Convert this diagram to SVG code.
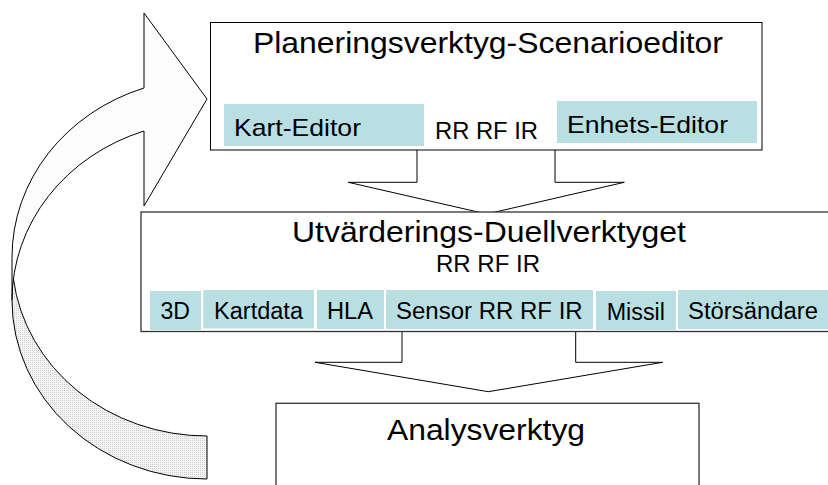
<svg xmlns="http://www.w3.org/2000/svg" width="828" height="485" viewBox="0 0 828 485">
<style>
text { font-family: "Liberation Sans", Arial, sans-serif; fill: #000; }
.t30 { font-size: 30px; }
.t24 { font-size: 24px; }
.t23 { font-size: 23px; }
.box { fill: #fff; stroke: #000; stroke-width: 1; }
.box2 { fill: #fff; stroke: #333; stroke-width: 1.3; }
.cell { fill: #b9dfe2; }
.blk { fill: #fff; stroke: #000; stroke-width: 1; stroke-linejoin: miter; }
.edge { fill: none; stroke: #000; stroke-width: 1; }
</style>
<defs>
<pattern id="dots" width="2" height="2" patternUnits="userSpaceOnUse">
<rect width="2" height="2" fill="#f4f4f4"/>
<rect width="1" height="1" fill="#cfcfcf"/>
</pattern>
</defs>

<g id="connectors">
<g id="loop-arrow">
<path d="M12,300.2 A195,178.8 0 0 0 207,479 L207,436 A195,178.8 0 0 1 12,257.2 Z" fill="url(#dots)" stroke="none"/>
<path d="M12,300.2 A195,178.8 0 0 1 144,131 L144,206 L207,99 L144,13 L144,88 A195,178.8 0 0 0 12,257.2 Z" fill="#fdfdfd" stroke="none"/>
<path class="edge" d="M12,300.2 A195,178.8 0 0 1 144,131 L144,206 L207,99 L144,13 L144,88 A195,178.8 0 0 0 12,257.2 L12,300.2 A195,178.8 0 0 0 207,479 L207,436 A195,178.8 0 0 1 13.4,278.7"/>
</g>
<path id="arrow-top-mid" class="blk" d="M417,150 V182.3 H348.3 L486.7,214 L624.3,182.3 H555 V150"/>
<path id="arrow-mid-bottom" class="blk" d="M402,332 V362.3 H315 L488.3,391.7 L662.7,362.3 H575.7 V332"/>
</g>

<g id="planering">
<rect class="box" x="210.5" y="22.5" width="551.5" height="127.5"/>
<text class="t30" x="253" y="53" textLength="470" lengthAdjust="spacingAndGlyphs">Planeringsverktyg-Scenarioeditor</text>
<g id="kart-editor">
<rect class="cell" x="224" y="104" width="200" height="42"/>
<text class="t24" x="234" y="136" textLength="127" lengthAdjust="spacingAndGlyphs">Kart-Editor</text>
</g>
<text class="t23" x="435" y="139" textLength="103" lengthAdjust="spacingAndGlyphs">RR RF IR</text>
<g id="enhets-editor">
<rect class="cell" x="557" y="101" width="200" height="42"/>
<text class="t24" x="567" y="132.5" textLength="161" lengthAdjust="spacingAndGlyphs">Enhets-Editor</text>
</g>
</g>

<g id="utvardering">
<rect class="box2" x="141" y="212" width="700" height="119.5"/>
<text class="t30" x="292" y="242" textLength="394" lengthAdjust="spacingAndGlyphs">Utvärderings-Duellverktyget</text>
<text class="t23" x="436" y="272" textLength="104" lengthAdjust="spacingAndGlyphs">RR RF IR</text>
<g id="cell-3d">
<rect class="cell" x="150" y="291" width="51" height="39"/>
<text class="t23" x="160.5" y="319.3" textLength="29.5" lengthAdjust="spacingAndGlyphs">3D</text>
</g>
<g id="cell-kartdata">
<rect class="cell" x="203.3" y="290" width="110.7" height="38.5"/>
<text class="t23" x="214" y="318.5" textLength="89" lengthAdjust="spacingAndGlyphs">Kartdata</text>
</g>
<g id="cell-hla">
<rect class="cell" x="317" y="290" width="67" height="39"/>
<text class="t23" x="327" y="318.5" textLength="46" lengthAdjust="spacingAndGlyphs">HLA</text>
</g>
<g id="cell-sensor">
<rect class="cell" x="386" y="290" width="207" height="39"/>
<text class="t23" x="396" y="318.5" textLength="186.7" lengthAdjust="spacingAndGlyphs">Sensor RR RF IR</text>
</g>
<g id="cell-missil">
<rect class="cell" x="596" y="291" width="80" height="39"/>
<text class="t23" x="606.7" y="319.8" textLength="58.3" lengthAdjust="spacingAndGlyphs">Missil</text>
</g>
<g id="cell-storsandare">
<rect class="cell" x="678" y="290" width="152" height="39"/>
<text class="t23" x="688" y="318.5" textLength="130" lengthAdjust="spacingAndGlyphs">Störsändare</text>
</g>
</g>

<g id="analys">
<rect class="box2" x="276" y="403.3" width="423" height="100"/>
<text class="t30" x="387" y="440" textLength="198" lengthAdjust="spacingAndGlyphs">Analysverktyg</text>
</g>
</svg>
